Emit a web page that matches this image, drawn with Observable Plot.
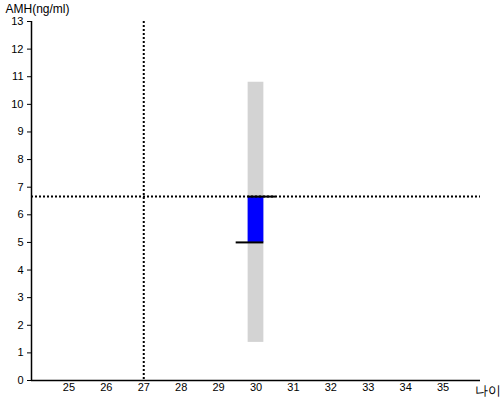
<!DOCTYPE html>
<html>
<head>
<meta charset="utf-8">
<script src="https://cdn.jsdelivr.net/npm/d3@7"></script>
<script src="https://cdn.jsdelivr.net/npm/@observablehq/plot@0.6"></script>
<style>
body { margin: 0; background: #fff; }
svg { font-family: "Liberation Sans", Arial, sans-serif; }
</style>
</head>
<body>
<div id="chart"></div>
<script>
const xTicks = [25, 26, 27, 28, 29, 30, 31, 32, 33, 34, 35];
const yTicks = [0, 1, 2, 3, 4, 5, 6, 7, 8, 9, 10, 11, 12, 13];
const refAge = 27;
const refAMH = 6.66;
const rangeBar = [{age: 30, low: 1.38, high: 10.8}];
const valueBar = [{age: 30, from: 5.0, to: 6.66}];
const halfWidth = 0.21;
const tickExtend = 0.32;
const xLabel = "나이";
const yLabel = "AMH(ng/ml)";

const plot = Plot.plot({
  width: 500,
  height: 400,
  marginLeft: 31,
  marginTop: 21,
  marginBottom: 20,
  marginRight: 20,
  style: {fontFamily: "Liberation Sans, Arial, sans-serif", fontSize: "11px", background: "#fff", color: "black"},
  x: {domain: [24, 36], ticks: xTicks, tickSize: 0, tickPadding: 3, label: null},
  y: {domain: [0, 13], ticks: yTicks, tickSize: 4, tickPadding: 4, label: null},
  marks: [
    Plot.rect(rangeBar, {x1: d => d.age - halfWidth, x2: d => d.age + halfWidth, y1: "low", y2: "high", fill: "#d3d3d3"}),
    Plot.rect(valueBar, {x1: d => d.age - halfWidth, x2: d => d.age + halfWidth, y1: "from", y2: "to", fill: "blue"}),
    Plot.ruleY(valueBar, {y: "to", x1: d => d.age - halfWidth, x2: d => d.age + halfWidth + tickExtend, stroke: "black", strokeWidth: 2}),
    Plot.ruleY(valueBar, {y: "from", x1: d => d.age - halfWidth - tickExtend, x2: d => d.age + halfWidth, stroke: "black", strokeWidth: 2}),
    Plot.ruleY([refAMH], {stroke: "black", strokeWidth: 2, strokeDasharray: "2,2"}),
    Plot.ruleX([refAge], {stroke: "black", strokeWidth: 2, strokeDasharray: "2,2"}),
    Plot.ruleX([24], {stroke: "black", strokeWidth: 1.5}),
    Plot.ruleY([0], {stroke: "black", strokeWidth: 1.5}),
    Plot.text([yLabel], {frameAnchor: "top-left", dx: -26, dy: -12, lineAnchor: "middle", text: d => d, fontSize: 12, textAnchor: "start", fill: "black"}),
    Plot.text([xLabel], {frameAnchor: "bottom-right", dx: -6, dy: 14, text: d => d, fontSize: 13, textAnchor: "start", fill: "black"})
  ]
});
document.getElementById("chart").append(plot);
</script>
</body>
</html>
